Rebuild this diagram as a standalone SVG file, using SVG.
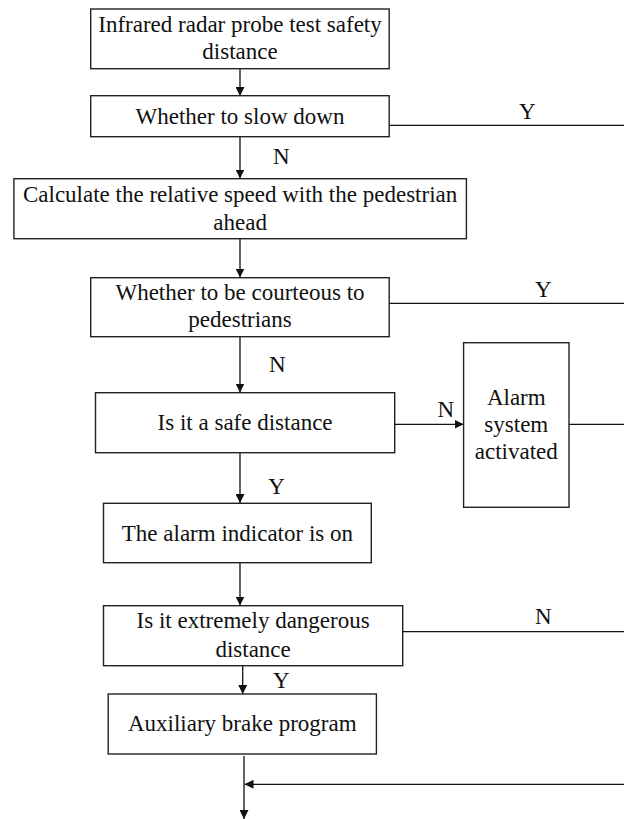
<svg xmlns="http://www.w3.org/2000/svg" width="624" height="819" viewBox="0 0 624 819">
<defs>
<marker id="ah" markerUnits="userSpaceOnUse" markerWidth="9" markerHeight="9" viewBox="0 0 9 9" refX="9" refY="4.5" orient="auto">
<path d="M0,0 L9,4.5 L0,9 Z" fill="#111"/>
</marker>
<style>
.box{fill:#fff;stroke:#222;stroke-width:1.4}
.t{font-size:23px;fill:#111;text-anchor:middle}
.c{stroke:#111;stroke-width:1.3;fill:none}
.a{marker-end:url(#ah)}
</style>
</defs>
<rect width="624" height="819" fill="#fff"/>
<g font-family="'Liberation Serif', 'Times New Roman', 'DejaVu Serif', serif">
<g id="connectors">
<line class="c a" x1="240" y1="69" x2="240" y2="96"/>
<line class="c" x1="389" y1="125.3" x2="624" y2="125.3"/>
<line class="c a" x1="240" y1="137" x2="240" y2="178.5"/>
<line class="c a" x1="240" y1="239" x2="240" y2="277.5"/>
<line class="c" x1="389" y1="303.3" x2="624" y2="303.3"/>
<line class="c a" x1="240" y1="337" x2="240" y2="392.5"/>
<line class="c a" x1="394.7" y1="424.3" x2="463.6" y2="424.3"/>
<line class="c" x1="569" y1="424.3" x2="624" y2="424.3"/>
<line class="c a" x1="240" y1="453" x2="240" y2="503"/>
<line class="c a" x1="240" y1="563" x2="240" y2="605.5"/>
<line class="c" x1="402.7" y1="631.7" x2="624" y2="631.7"/>
<line class="c a" x1="242.7" y1="666" x2="242.7" y2="694"/>
<line class="c a" x1="244" y1="756" x2="244" y2="819"/>
<line class="c a" x1="624" y1="784.3" x2="244.5" y2="784.3"/>
<text class="t" x="527.3" y="119">Y</text>
<text class="t" x="281.3" y="164.3">N</text>
<text class="t" x="543.2" y="296.7">Y</text>
<text class="t" x="277.4" y="371.7">N</text>
<text class="t" x="445.7" y="417.3">N</text>
<text class="t" x="276.6" y="494">Y</text>
<text class="t" x="543.2" y="624">N</text>
<text class="t" x="281.3" y="688.3">Y</text>
</g>
<g id="n1">
<rect class="box" x="90.7" y="9" width="298.5" height="59.7"/>
<text class="t" x="240" y="31.7">Infrared radar probe test safety</text>
<text class="t" x="240" y="59.3">distance</text>
</g>
<g id="n2">
<rect class="box" x="90.7" y="95.7" width="298.5" height="41"/>
<text class="t" x="240" y="124">Whether to slow down</text>
</g>
<g id="n3">
<rect class="box" x="13.9" y="178.7" width="452.5" height="60"/>
<text class="t" x="240.1" y="201.7">Calculate the relative speed with the pedestrian</text>
<text class="t" x="240.1" y="230">ahead</text>
</g>
<g id="n4">
<rect class="box" x="90.7" y="277.7" width="298.5" height="59"/>
<text class="t" x="240" y="300">Whether to be courteous to</text>
<text class="t" x="240" y="326.7">pedestrians</text>
</g>
<g id="n5">
<rect class="box" x="95.5" y="392.7" width="299.2" height="60"/>
<text class="t" x="245.1" y="430">Is it a safe distance</text>
</g>
<g id="n6">
<rect class="box" x="463.6" y="342.7" width="105.4" height="164.6"/>
<text class="t" x="516.3" y="405">Alarm</text>
<text class="t" x="516.3" y="431.7">system</text>
<text class="t" x="516.3" y="459">activated</text>
</g>
<g id="n7">
<rect class="box" x="103.5" y="503.3" width="267.8" height="59.4"/>
<text class="t" x="237.4" y="541">The alarm indicator is on</text>
</g>
<g id="n8">
<rect class="box" x="103.5" y="605.7" width="299.2" height="60"/>
<text class="t" x="253.1" y="628.3">Is it extremely dangerous</text>
<text class="t" x="253.1" y="656.7">distance</text>
</g>
<g id="n9">
<rect class="box" x="108.2" y="694" width="268.2" height="60"/>
<text class="t" x="242.3" y="730.7">Auxiliary brake program</text>
</g>
</g>
</svg>
